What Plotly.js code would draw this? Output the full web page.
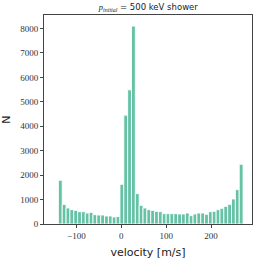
<!DOCTYPE html>
<html><head><meta charset="utf-8">
<script src="https://cdn.plot.ly/plotly-3.0.1.min.js"></script>
<style>html,body{margin:0;padding:0;background:#fff}#c{width:258px;height:259px}</style>
</head><body><div id="c"></div>
<script>
// histogram bin setup (left edge of first bin, bin width) and counts
const binStart = -140;
const binWidth = 8.565;
const counts = [1790, 800, 656, 590, 560, 505, 505, 450, 478, 382, 369, 369, 328, 328, 287, 305,
  1625, 4455, 5492, 8100, 1243, 765, 656, 587, 560, 519, 505, 423, 423, 423, 423, 410, 410,
  450, 342, 410, 450, 450, 396, 505, 519, 587, 642, 724, 806, 1025, 1407, 2445];
const yTicks = [0, 1000, 2000, 3000, 4000, 5000, 6000, 7000, 8000];
const xTicks = [-100, 0, 100, 200];

const centers = counts.map((_, i) => binStart + (i + 0.5) * binWidth);

const axisCommon = {
  showline: true, mirror: true, linecolor: '#444', linewidth: 1,
  ticks: 'outside', ticklen: 3, tickwidth: 1, tickcolor: '#444',
  showgrid: false, zeroline: false,
  tickfont: {family: '"Liberation Serif", "DejaVu Serif", serif', size: 9, color: '#333'}
};

Plotly.newPlot('c', [{
  type: 'bar', x: centers, y: counts, width: binWidth,
  marker: {color: '#66c2a5', line: {color: '#ffffff', width: 0.9}},
  hoverinfo: 'none'
}], {
  width: 258, height: 259,
  margin: {l: 44, r: 6, t: 15, b: 35, pad: 0},
  paper_bgcolor: '#fff', plot_bgcolor: '#fff',
  showlegend: false,
  title: {text: '<i style="font-family:Liberation Serif">p</i><sub><i style="font-family:Liberation Serif">initial</i></sub> = 500 keV shower',
    font: {family: 'DejaVu Sans, sans-serif', size: 8.5, color: '#222'},
    x: 0.575, xanchor: 'center', y: 0.985, yanchor: 'top'},
  xaxis: Object.assign({}, axisCommon, {
    range: [-172, 291], tickvals: xTicks, ticktext: xTicks.map(v => v < 0 ? '\u2212' + Math.abs(v) : String(v)),
    title: {text: 'velocity [m/s]', font: {family: 'DejaVu Sans, sans-serif', size: 11, color: '#222'}, standoff: 8}
  }),
  yaxis: Object.assign({}, axisCommon, {
    range: [0, 8553], tickvals: yTicks,
    title: {text: 'N', font: {family: 'DejaVu Sans, sans-serif', size: 11, color: '#222'}, standoff: 8}
  })
}, {staticPlot: true, displayModeBar: false});
</script></body></html>
